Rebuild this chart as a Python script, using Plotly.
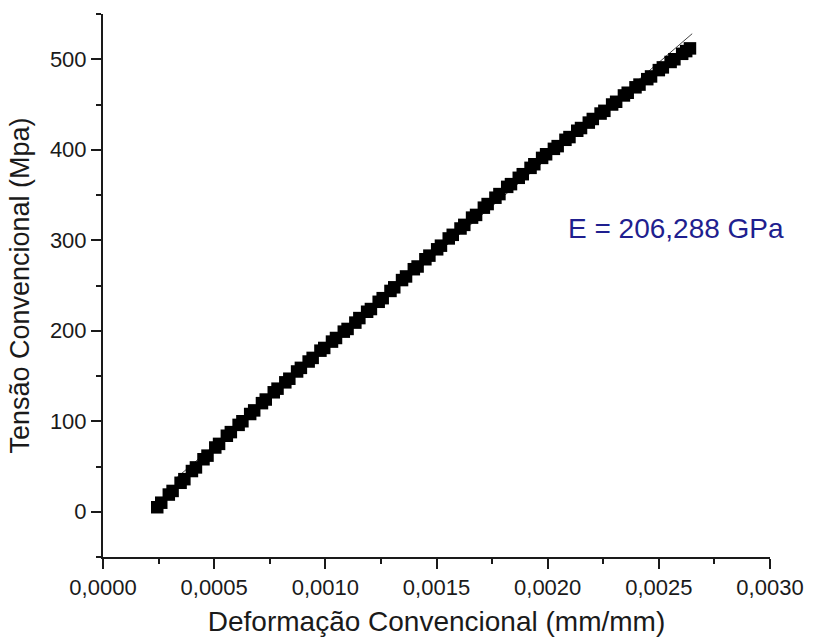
import numpy as np
import plotly.graph_objects as go

# strain in micro-strain (x 1e-6 mm/mm), stress in MPa
strain_micro = [244, 262, 296, 313, 349, 366, 400, 418, 452, 470, 505, 522, 557, 575, 610, 627,
                662, 680, 715, 732, 768, 785, 820, 838, 873, 890, 925, 943, 978, 995, 1030,
                1048, 1083, 1100, 1135, 1153, 1188, 1205, 1240, 1258, 1293, 1310, 1345, 1363,
                1398, 1415, 1450, 1468, 1503, 1520, 1555, 1573, 1608, 1625, 1660, 1678, 1713,
                1730, 1765, 1783, 1818, 1835, 1870, 1888, 1923, 1940, 1975, 1993, 2028, 2045,
                2080, 2098, 2133, 2150, 2185, 2203, 2238, 2255, 2290, 2308, 2343, 2360, 2395,
                2413, 2448, 2465, 2500, 2518, 2553, 2570, 2605, 2623, 2640]
stress = [5, 10, 19, 23, 32, 36, 45, 49, 58, 62, 71, 75, 84, 88, 96, 100,
          108, 112, 120, 124, 132, 136, 143, 147, 155, 159, 166, 170, 178, 181, 188,
          192, 199, 202, 209, 214, 221, 224, 232, 236, 244, 248, 256, 260,
          268, 271, 279, 283, 290, 294, 302, 306, 313, 317, 325, 328, 336,
          340, 347, 351, 359, 362, 369, 373, 380, 384, 391, 395, 401, 404,
          411, 414, 421, 424, 430, 434, 440, 443, 450, 453, 460, 463, 469,
          472, 478, 481, 488, 491, 497, 500, 506, 509, 512]

strain = [v * 1e-6 for v in strain_micro]

x_ticks = [0.0, 0.0005, 0.0010, 0.0015, 0.0020, 0.0025, 0.0030]
y_ticks = [0, 100, 200, 300, 400, 500]
fit_x_range = [0.00033, 0.00265]
annotation_text = "E = 206,288 GPa"

# linear fit line through the data
coef = np.polyfit(strain, stress, 1)
fit_y = [coef[0] * fx + coef[1] for fx in fit_x_range]

FONT = "Arial, 'Liberation Sans', sans-serif"

fig = go.Figure()
fig.add_trace(go.Scatter(
    x=fit_x_range, y=fit_y, mode="lines",
    line=dict(color="#444444", width=1),
    showlegend=False))
fig.add_trace(go.Scatter(
    x=strain, y=stress, mode="markers",
    marker=dict(symbol="square", size=12.5, color="black", line=dict(width=0)),
    showlegend=False, hoverinfo="x+y"))

fig.add_annotation(x=0.002575, y=313, xref="x", yref="y", text=annotation_text,
                   showarrow=False, font=dict(family=FONT, size=28, color="#1f1f8f"))

axis_common = dict(
    showgrid=False, zeroline=False, showline=True, linecolor="#1a1a1a", linewidth=2,
    ticks="outside", ticklen=10, tickwidth=2, tickcolor="#1a1a1a",
    tickfont=dict(family=FONT, size=22, color="#1a1a1a"),
    mirror=False,
)

fig.update_xaxes(
    range=[0, 0.003], tickvals=x_ticks, tickformat=".4f",
    minor=dict(ticks="outside", ticklen=5, tickwidth=2, tickcolor="#1a1a1a", dtick=0.00025),
    title=dict(text="Deformação Convencional (mm/mm)",
               font=dict(family=FONT, size=28, color="#1a1a1a"), standoff=12),
    **axis_common)
fig.update_yaxes(
    range=[-50, 550], tickvals=y_ticks,
    minor=dict(ticks="outside", ticklen=5, tickwidth=2, tickcolor="#1a1a1a", dtick=50, tick0=0),
    title=dict(text="Tensão Convencional (Mpa)",
               font=dict(family=FONT, size=27, color="#1a1a1a"), standoff=12),
    **axis_common)

fig.update_layout(
    width=816, height=644,
    margin=dict(l=103, r=38, t=14, b=87),
    paper_bgcolor="white", plot_bgcolor="white",
    separators=",.",
)

fig.write_html("out.html")
